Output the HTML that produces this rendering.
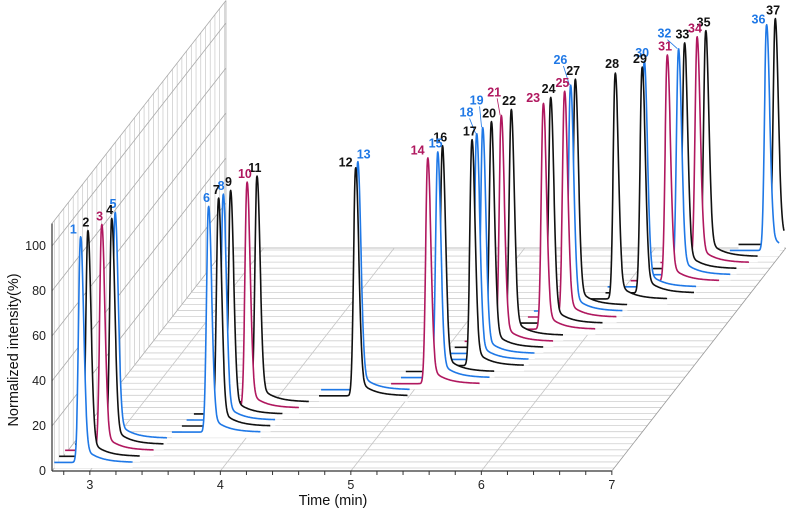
<!DOCTYPE html>
<html><head><meta charset="utf-8"><style>
html,body{margin:0;padding:0;background:#fff;}
svg{display:block;font-family:"Liberation Sans",Arial,sans-serif;}
</style></head><body>
<svg id="chart" width="791" height="513" viewBox="0 0 791 513" xmlns="http://www.w3.org/2000/svg">
<g id="wall"></g>
<g id="floor"></g>
<g id="traces"></g>
<g id="labels"></g>
<g id="axes"></g>
</svg>
<script>
// ---- data ----
const peakNames = ["1","2","3","4","5","6","7","8","9","10","11","12","13","14","15","16","17","18","19","20","21","22","23","24","25","26","27","28","29","30","31","32","33","34","35","36","37"];
const retentionTimes = [2.91,2.93,3.00,3.04,3.03,3.71,3.75,3.75,3.77,3.86,3.90,4.62,4.60,5.10,5.14,5.14,5.33,5.33,5.34,5.37,5.41,5.45,5.66,5.68,5.75,5.76,5.76,6.03,6.20,6.18,6.32,6.37,6.38,6.44,6.47,6.90,6.93];
const peakHeights = [100,100,100,100,100,100,101,100,99,100,100,101,101,100,100,100,100,100,100,100,100,100,100,100,100,100,100,100,100,100,100,100,100,100,100,100,100];
const seriesColor = ["b","k","r","k","b","b","k","b","k","r","k","k","b","r","b","k","k","b","b","k","r","k","r","k","r","b","k","k","k","b","r","b","k","r","k","b","k"];
const xTicks = [3,4,5,6,7];
const yTicks = [0,20,40,60,80,100];
// ---- layout ----
const palette = {b:"#1f78e6",k:"#111111",r:"#b0185f"};
const T0 = 2.71, PXT = 130.5, X0 = 52, Y0 = 471, PXV = 2.25, D = 223, DXR = 0.78, TMAX = 7.0, VTOP = 110;
const labelOffsets = {"1":[-7,-4],"12":[-10,-2],"13":[6,-4],"14":[-10,-4],"18":[-10,-18],"19":[-6,-24],"21":[-7,-20],"26":[-10,-22],"32":[-14,-12],"36":[-8,-2],"23":[-10,-2],"28":[-3,-6]};
const N = peakNames.length;
function dep(k){ return 3 + (D-5)*k/(N-1); }
function px(t,d){ return X0 + (t-T0)*PXT + d*DXR; }
function py(v,d){ return Y0 - d - v*PXV; }
const NS="http://www.w3.org/2000/svg";
function mk(tag,attrs,parent){ const e=document.createElementNS(NS,tag); for(const k in attrs) e.setAttribute(k,attrs[k]); parent.appendChild(e); return e; }
const wall=document.getElementById('wall'), floor=document.getElementById('floor'), traces=document.getElementById('traces'), labels=document.getElementById('labels'), axes=document.getElementById('axes');
for(let k=0;k<N;k++){ const d=dep(k);
  const l=mk('line',{x1:px(T0,d),y1:py(0,d),x2:px(T0,d),y2:py(VTOP,d),stroke:"#c8c8c8","stroke-width":0.7},wall);
  
  
}
yTicks.concat([VTOP]).forEach(v=>{
  const l=mk('line',{x1:px(T0,0),y1:py(v,0),x2:px(T0,D),y2:py(v,D),stroke:"#aaa","stroke-width":0.8},wall);
  
  
});
mk('line',{x1:px(T0,D),y1:py(0,D),x2:px(T0,D),y2:py(VTOP,D),stroke:"#aaa","stroke-width":0.8},wall);
for(let k=0;k<N;k++){ const d=dep(k);
  const l=mk('line',{x1:px(T0,d),y1:py(0,d),x2:px(TMAX,d),y2:py(0,d),stroke:"#cfcfcf","stroke-width":0.8},floor);
  
  
}
mk('line',{x1:px(T0,D),y1:py(0,D),x2:px(TMAX,D),y2:py(0,D),stroke:"#aaa","stroke-width":0.8},floor);
xTicks.forEach(t=>{
  const l=mk('line',{x1:px(t,0),y1:py(0,0),x2:px(t,D),y2:py(0,D),stroke:t===TMAX?"#999":"#c4c4c4","stroke-width":0.8},floor);
  
  
});
function sig(t,t0,h){ const dt=t-t0; let v;
  if(dt<0) v=h*Math.exp(-0.5*(dt/0.015)**2);
  else v=h*Math.exp(-0.5*(dt/0.024)**2)+ 9*Math.exp(-dt/0.1)*(1-Math.exp(-dt/0.025));
  return v+2.5; }
for(let k=N-1;k>=0;k--){
  const d=dep(k), t0=retentionTimes[k], h=peakHeights[k];
  const ts=Math.max(T0,t0-0.28), te=Math.min(TMAX,t0+0.4);
  let pts=[];
  for(let t=ts;t<=te+1e-9;t+=0.003){ pts.push([px(t,d),py(sig(t,t0,h),d)]); }
  const pstr=pts.map(p=>p[0].toFixed(1)+","+p[1].toFixed(1)).join(" ");
  const fill=mk('polygon',{points:pstr+" "+px(te,d).toFixed(1)+","+py(0,d).toFixed(1)+" "+px(ts,d).toFixed(1)+","+py(0,d).toFixed(1),fill:"#fff",stroke:"none"},traces);
  
  
  const pl=mk('polyline',{points:pstr,fill:"none",stroke:palette[seriesColor[k]],"stroke-width":1.6,"stroke-linejoin":"round"},traces);
  
  
  const ax=px(t0,d), ay=py(h+2.5,d);
  const off=labelOffsets[peakNames[k]]||[-2,-5];
  const tx=mk('text',{x:(ax+off[0]).toFixed(1),y:(ay+off[1]).toFixed(1),"text-anchor":"middle","font-size":12.5,"font-weight":"bold",fill:palette[seriesColor[k]]},labels);
  tx.textContent=peakNames[k];
  
  
  if(off[1]<-10){
    const ld=mk('line',{x1:ax+off[0]+3,y1:ay+off[1]+2,x2:ax-1,y2:ay-1,stroke:palette[seriesColor[k]],"stroke-width":0.8},labels);
    
    
  }
}
mk('line',{x1:X0,y1:Y0,x2:px(TMAX,0),y2:Y0,stroke:"#333","stroke-width":1.2},axes);
mk('line',{x1:X0,y1:Y0,x2:X0,y2:py(VTOP,0),stroke:"#333","stroke-width":1.2},axes);
for(let i=0;i<=21;i++){ const t=2.8+i*0.2; if(t>TMAX+1e-6) break;
  const l=mk('line',{x1:px(t,0),y1:Y0,x2:px(t,0),y2:Y0+4,stroke:"#333","stroke-width":1},axes);
  
  
}
xTicks.forEach(t=>{
  const e=mk('text',{x:px(t,0),y:Y0+18,"text-anchor":"middle","font-size":12.5,fill:"#222"},axes);
  e.textContent=String(t);
  
  
});
yTicks.forEach(v=>{
  const e=mk('text',{x:X0-6,y:py(v,0)+4,"text-anchor":"end","font-size":12.5,fill:"#222"},axes);
  e.textContent=String(v);
  
  
});
const xt=mk('text',{x:333,y:505,"text-anchor":"middle","font-size":14.5,fill:"#111"},axes);
xt.textContent="Time (min)";


const yt=mk('text',{x:0,y:0,transform:"translate(18,350) rotate(-90)","text-anchor":"middle","font-size":14.5,fill:"#111"},axes);
yt.textContent="Normalized intensity(%)";


</script>
</body></html>
